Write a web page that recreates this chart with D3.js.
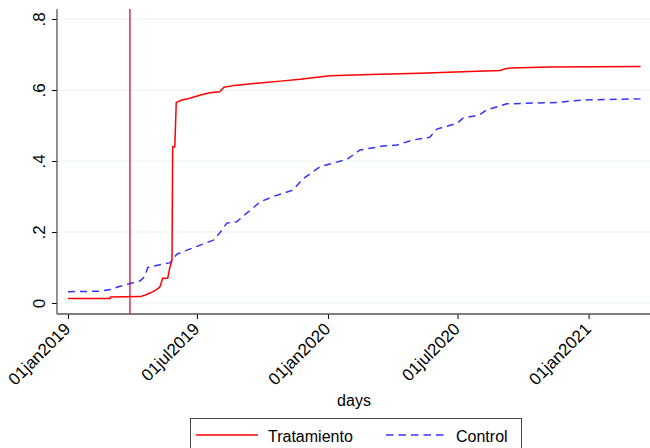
<!DOCTYPE html>
<html>
<head>
<meta charset="utf-8">
<script src="https://cdn.jsdelivr.net/npm/d3@7"></script>
<style>
  html, body { margin: 0; padding: 0; background: #fff; }
  svg { display: block; font-family: "Liberation Sans", Arial, Helvetica, sans-serif; }
</style>
</head>
<body>
<svg id="chart" width="650" height="448"></svg>
<script>
// ---- data ----
const seriesNames = ["Tratamiento", "Control"];
const tratDates = ["2019-01-01","2019-03-01","2019-03-02","2019-04-12","2019-04-19","2019-04-26","2019-05-03","2019-05-10","2019-05-14","2019-05-21","2019-05-24","2019-05-27","2019-05-28","2019-05-31","2019-06-02","2019-06-10","2019-06-21","2019-07-05","2019-07-19","2019-08-02","2019-08-08","2019-08-23","2019-09-28","2019-10-26","2019-11-23","2020-01-04","2020-02-29","2020-05-09","2020-07-18","2020-08-30","2020-09-06","2020-09-13","2020-11-08","2021-03-15"];
const tratValues = [0.013,0.013,0.017,0.018,0.022,0.028,0.035,0.045,0.07,0.07,0.10,0.12,0.44,0.44,0.565,0.572,0.577,0.585,0.592,0.595,0.608,0.613,0.620,0.625,0.630,0.640,0.644,0.647,0.652,0.655,0.660,0.662,0.665,0.666];
const ctrlDates = ["2019-01-01","2019-02-15","2019-03-01","2019-03-15","2019-03-29","2019-04-12","2019-04-19","2019-04-23","2019-05-10","2019-05-24","2019-06-03","2019-06-25","2019-07-24","2019-08-02","2019-08-12","2019-08-26","2019-09-09","2019-09-28","2019-10-16","2019-11-13","2019-11-27","2019-12-21","2020-01-28","2020-02-15","2020-03-18","2020-04-07","2020-04-29","2020-05-23","2020-06-02","2020-06-30","2020-07-09","2020-08-01","2020-08-11","2020-09-08","2020-11-18","2020-12-24","2021-03-15"];
const ctrlValues = [0.032,0.033,0.038,0.047,0.055,0.062,0.075,0.100,0.108,0.113,0.138,0.155,0.177,0.197,0.225,0.229,0.253,0.285,0.300,0.318,0.350,0.384,0.405,0.431,0.442,0.445,0.459,0.467,0.490,0.506,0.521,0.530,0.544,0.561,0.565,0.572,0.575];
const eventDate = "2019-03-29";
const yTicks = [0, 0.2, 0.4, 0.6, 0.8];
const yTickLabels = ["0", ".2", ".4", ".6", ".8"];
const xTickDates = ["2019-01-01","2019-07-01","2020-01-01","2020-07-01","2021-01-01"];
const xTickLabels = ["01jan2019","01jul2019","01jan2020","01jul2020","01jan2021"];
const xTitle = "days";

// ---- layout ----
const svg = d3.select("#chart");
const parse = d3.utcParse("%Y-%m-%d");
const axisX = 57, axisY = 314, topY = 9, rightX = 650;

const x = d3.scaleUtc().domain([parse("2019-01-01"), parse("2021-01-01")]).range([68, 588.6]);
const y = d3.scaleLinear().domain([0, 0.8]).range([303, 19]);

// gridlines
svg.append("g").selectAll("line").data(yTicks).join("line")
  .attr("x1", axisX).attr("x2", rightX)
  .attr("y1", d => y(d)).attr("y2", d => y(d))
  .attr("stroke", "#eaf2f3").attr("stroke-width", 1.2);

// y axis
const gy = svg.append("g").attr("transform", `translate(${axisX},0)`)
  .call(d3.axisLeft(y).tickValues(yTicks).tickSize(5).tickFormat(""));
gy.select(".domain").remove();
gy.selectAll(".tick line").attr("stroke", "#000");
gy.selectAll(".tick").append("text")
  .attr("transform", "translate(-12,0) rotate(-90)")
  .attr("text-anchor", "middle").attr("fill", "#000")
  .attr("font-size", 17)
  .text((d, i) => yTickLabels[i]);

// x axis
const gx = svg.append("g").attr("transform", `translate(0,${axisY})`)
  .call(d3.axisBottom(x).tickValues(xTickDates.map(parse)).tickSize(5).tickFormat(""));
gx.select(".domain").remove();
gx.selectAll(".tick line").attr("stroke", "#000");
gx.selectAll(".tick").append("text")
  .attr("transform", "translate(3,16) rotate(-45)")
  .attr("text-anchor", "end").attr("fill", "#000")
  .attr("font-size", 17)
  .text((d, i) => xTickLabels[i]);

// axis lines
svg.append("line").attr("x1", axisX).attr("x2", axisX).attr("y1", topY).attr("y2", axisY)
  .attr("stroke", "#555").attr("stroke-width", 1.3);
svg.append("line").attr("x1", axisX).attr("x2", rightX).attr("y1", axisY).attr("y2", axisY)
  .attr("stroke", "#555").attr("stroke-width", 1.3);

// x title
svg.append("text").attr("x", 354).attr("y", 406).attr("text-anchor", "middle")
  .attr("font-size", 16).text(xTitle);

// lines
const line = d3.line().x(d => x(d[0])).y(d => y(d[1]));
const trat = tratDates.map((d, i) => [parse(d), tratValues[i]]);
const ctrl = ctrlDates.map((d, i) => [parse(d), ctrlValues[i]]);

svg.append("path").datum(ctrl).attr("d", line)
  .attr("fill", "none").attr("stroke", "#3333ff").attr("stroke-width", 1.5)
  .attr("stroke-dasharray", "7,5");
svg.append("path").datum(trat).attr("d", line)
  .attr("fill", "none").attr("stroke", "#ff0000").attr("stroke-width", 1.5);

// event line
svg.append("line").attr("x1", x(parse(eventDate))).attr("x2", x(parse(eventDate)))
  .attr("y1", topY).attr("y2", axisY)
  .attr("stroke", "#d0103a").attr("stroke-width", 1.3);

// legend
const lg = svg.append("g");
lg.append("rect").attr("x", 190.5).attr("y", 418.5).attr("width", 331).attr("height", 40)
  .attr("fill", "#fff").attr("stroke", "#444").attr("stroke-width", 1);
lg.append("line").attr("x1", 196).attr("x2", 258).attr("y1", 435).attr("y2", 435)
  .attr("stroke", "#ff0000").attr("stroke-width", 1.5);
lg.append("text").attr("x", 268).attr("y", 442).attr("font-size", 16).text(seriesNames[0]);
lg.append("line").attr("x1", 386).attr("x2", 448).attr("y1", 435).attr("y2", 435)
  .attr("stroke", "#3333ff").attr("stroke-width", 1.5).attr("stroke-dasharray", "7.5,5");
lg.append("text").attr("x", 456).attr("y", 442).attr("font-size", 16).text(seriesNames[1]);
</script>
</body>
</html>
